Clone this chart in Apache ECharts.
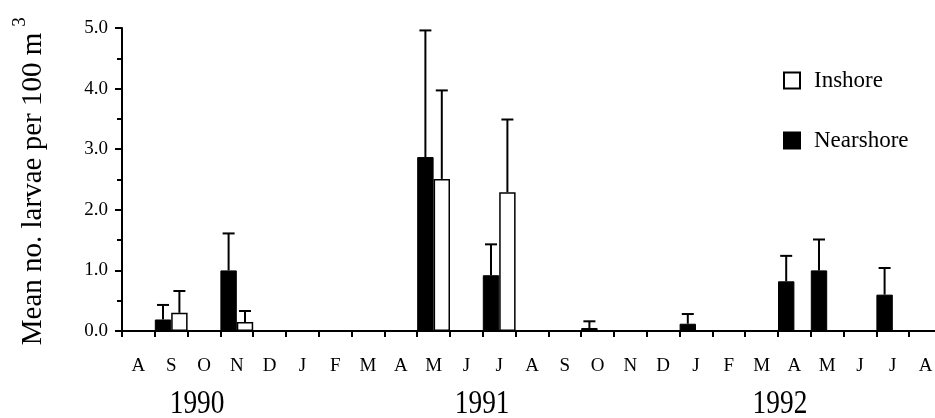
<!DOCTYPE html>
<html>
<head>
<meta charset="utf-8">
<script src="https://cdn.jsdelivr.net/npm/echarts@6/dist/echarts.min.js"></script>
<style>html,body{margin:0;padding:0;background:#fff}#c{width:935px;height:418px}</style>
</head>
<body>
<div id="c"></div>
<script>
// Month categories Aug 1990 - Aug 1992
const months = ['A','S','O','N','D','J','F','M','A','M','J','J','A','S','O','N','D','J','F','M','A','M','J','J','A'];
const years = ['1990', '1991', '1992'];
const yearMonthIndex = [1.79, 10.48, 19.56];
const yTicks = [0, 1, 2, 3, 4, 5];
// Mean values
const nearshore = [0, 0.19, 0, 1.0, 0, 0, 0, 0, 0, 2.87, 0, 0.92, 0, 0, 0.05, 0, 0, 0.12, 0, 0, 0.82, 1.0, 0, 0.60, 0];
const inshore   = [0, 0.30, 0, 0.15, 0, 0, 0, 0, 0, 2.51, 0, 2.29, 0, 0, 0, 0, 0, 0, 0, 0, 0, 0, 0, 0, 0];
// Upper end of error bars (null = none)
const nearshoreErr = [null, 0.43, null, 1.61, null, null, null, null, null, 4.96, null, 1.43, null, null, 0.16, null, null, 0.28, null, null, 1.24, 1.51, null, 1.04, null];
const inshoreErr   = [null, 0.66, null, 0.33, null, null, null, null, null, 3.97, null, 3.49, null, null, null, null, null, null, null, null, null, null, null, null, null];

const SERIF = '"Liberation Serif", "DejaVu Serif", serif';

const errData = [];
nearshoreErr.forEach((e, i) => { if (e != null) errData.push([i, nearshore[i], e, -1]); });
inshoreErr.forEach((e, i) => { if (e != null) errData.push([i, inshore[i], e, 1]); });

const chart = echarts.init(document.getElementById('c'), null, {renderer: 'canvas'});

const graphics = [{
  type: 'text',
  x: 33, y: 189,
  rotation: Math.PI / 2,
  style: {
    text: 'Mean no. larvae per 100 m',
    font: '29px ' + SERIF,
    fill: '#000',
    align: 'center',
    verticalAlign: 'middle'
  }
}, {
  type: 'text',
  x: 20, y: 22,
  rotation: Math.PI / 2,
  style: {
    text: '3',
    font: '19px ' + SERIF,
    fill: '#000',
    align: 'center',
    verticalAlign: 'middle'
  }
}];

const option = {
  animation: false,
  backgroundColor: '#fff',
  grid: { left: 122, top: 28, width: 820, height: 303, containLabel: false, outerBoundsMode: 'none' },
  legend: {
    data: ['Inshore', 'Nearshore'],
    orient: 'vertical',
    left: 783, top: 69,
    padding: 0,
    itemWidth: 16, itemHeight: 16, itemGap: 37,
    icon: 'rect',
    textStyle: { fontFamily: SERIF, fontSize: 23, color: '#000', padding: [0, 0, 0, 9] }
  },
  xAxis: {
    type: 'category',
    data: months,
    boundaryGap: true,
    axisLine: { lineStyle: { color: '#000', width: 2 } },
    axisTick: { show: true, length: 6, lineStyle: { color: '#000', width: 2 } },
    axisLabel: { color: '#000', fontFamily: SERIF, fontSize: 19, margin: 26, interval: 0 },
    splitLine: { show: false }
  },
  yAxis: {
    type: 'value',
    min: yTicks[0], max: yTicks[yTicks.length - 1], interval: 1,
    axisLine: { show: true, lineStyle: { color: '#000', width: 2 } },
    axisTick: { show: true, length: 7, lineStyle: { color: '#000', width: 2 } },
    minorTick: { show: true, splitNumber: 2, length: 5, lineStyle: { color: '#000', width: 2 } },
    axisLabel: { color: '#000', fontFamily: SERIF, fontSize: 19, margin: 14, formatter: v => v.toFixed(1) },
    splitLine: { show: false }
  },
  series: [
    {
      name: 'Nearshore', type: 'bar', data: nearshore,
      barWidth: '50%', barGap: '0%', barCategoryGap: '0%',
      itemStyle: { color: '#000', borderColor: '#000', borderWidth: 1 }
    },
    {
      name: 'Inshore', type: 'bar', data: inshore,
      barWidth: '50%', barGap: '0%', barCategoryGap: '0%',
      itemStyle: { color: '#fff', borderColor: '#000', borderWidth: 1.5 }
    },
    {
      name: 'err', type: 'custom', data: errData, z: 5,
      encode: { x: 0, y: [1, 2] },
      renderItem: function (params, api) {
        const idx = api.value(0), v = api.value(1), top = api.value(2), side = api.value(3);
        const base = api.coord([idx, v]);
        const tp = api.coord([idx, top]);
        const w = api.size([1, 0])[0];
        const x = base[0] + side * w / 4;
        return {
          type: 'group',
          children: [
            { type: 'line', shape: { x1: x, y1: base[1], x2: x, y2: tp[1] }, style: { stroke: '#000', lineWidth: 2 } },
            { type: 'line', shape: { x1: x - 6, y1: tp[1], x2: x + 6, y2: tp[1] }, style: { stroke: '#000', lineWidth: 2 } }
          ]
        };
      }
    }
  ],
  graphic: graphics
};
chart.setOption(option);

// Year labels placed under their month ranges via the axis scale (interpolating between category centres)
const yearGraphics = years.map((yr, k) => {
  const f = yearMonthIndex[k];
  const i0 = Math.floor(f);
  const p0 = chart.convertToPixel({ xAxisIndex: 0 }, i0);
  const p1 = chart.convertToPixel({ xAxisIndex: 0 }, i0 + 1);
  const px = p0 + (p1 - p0) * (f - i0);
  return {
    type: 'text', x: px, y: 404, scaleX: 0.83,
    style: { text: yr, font: '33px ' + SERIF, fill: '#000', align: 'center', verticalAlign: 'middle' }
  };
});
chart.setOption({ graphic: graphics.concat(yearGraphics) });
</script>
</body>
</html>
